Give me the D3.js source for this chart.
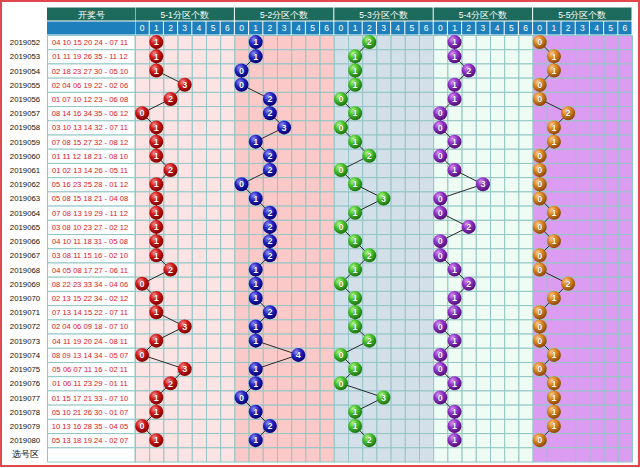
<!DOCTYPE html>
<html>
  <head>
    <meta charset="utf-8">
    <title>大乐透 五分区个数走势</title>
<style>
  body { margin: 0; background-color: #fff; }
  #viz { width: 640px; height: 468px; }
  text { font-family: "Liberation Sans", Arial, sans-serif; }
</style>
  </head>
  <body>
    <div id="viz"></div>

  <script src="https://cdnjs.cloudflare.com/ajax/libs/d3/7.8.5/d3.min.js"></script>
  <script>

    var issues = ["2019052","2019053","2019054","2019055","2019056","2019057","2019058","2019059","2019060","2019061",
                  "2019062","2019063","2019064","2019065","2019066","2019067","2019068","2019069","2019070","2019071",
                  "2019072","2019073","2019074","2019075","2019076","2019077","2019078","2019079","2019080"]

    var draws = ["04 10 15 20 24 - 07 11","01 11 19 26 35 - 11 12","02 18 23 27 30 - 05 10","02 04 06 19 22 - 02 06",
                 "01 07 10 12 23 - 06 08","08 14 16 34 35 - 06 12","03 10 13 14 32 - 07 11","07 08 15 27 32 - 08 12",
                 "01 11 12 18 21 - 08 10","01 02 13 14 26 - 05 11","05 16 23 25 28 - 01 12","05 08 15 18 21 - 04 08",
                 "07 08 13 19 29 - 11 12","03 08 10 23 27 - 02 12","04 10 11 18 31 - 05 08","03 08 11 15 16 - 02 10",
                 "04 05 08 17 27 - 06 11","08 22 23 33 34 - 04 06","02 13 15 22 34 - 02 12","07 13 14 15 22 - 07 11",
                 "02 04 06 09 18 - 07 10","04 11 19 20 24 - 08 11","08 09 13 14 34 - 05 07","05 06 07 11 16 - 02 11",
                 "01 06 11 23 29 - 01 11","01 15 17 21 33 - 07 10","05 10 21 26 30 - 01 07","10 13 16 28 35 - 04 05",
                 "05 13 18 19 24 - 02 07"]

    // counts per zone
    var zone1 = [1,1,1,3,2,0,1,1,1,2,1,1,1,1,1,1,2,0,1,1,3,1,0,3,2,1,1,0,1]
    var zone2 = [1,1,0,0,2,2,3,1,2,2,0,1,2,2,2,2,1,1,1,2,1,1,4,1,1,0,1,2,1]
    var zone3 = [2,1,1,1,0,1,0,1,2,0,1,3,1,0,1,2,1,0,1,1,1,2,0,1,0,3,1,1,2]
    var zone4 = [1,1,2,1,1,0,0,1,0,1,3,0,0,2,0,0,1,2,1,1,0,1,0,0,1,0,1,1,1]
    var zone5 = [0,1,1,0,0,2,1,1,0,0,0,0,1,0,1,0,0,2,1,0,0,0,1,0,1,1,1,1,0]

    var zoneNames = ["5-1分区个数","5-2分区个数","5-3分区个数","5-4分区个数","5-5分区个数"]
    var counts = [0,1,2,3,4,5,6]

    var zoneBg = ["#fde4e4","#fcc9c9","#d3dfe9","#effcf3","#dc9cf2"]
    var ballCol = [["#ff9a9a","#d01818","#7c0000"],
                   ["#9a9aff","#2424c4","#00006e"],
                   ["#c4ff9c","#44c228","#1b6e0e"],
                   ["#e6a0ff","#9032c8","#4e0c72"],
                   ["#ffd69a","#dc8422","#864400"]]
    var zones = [zone1, zone2, zone3, zone4, zone5]

    var svg = d3.select("#viz").append("svg")
        .attr("width", 640)
        .attr("height", 468)

    var defs = svg.append("defs")
    ballCol.forEach(function(c, i) {
      var g = defs.append("radialGradient")
          .attr("id", "ball" + i)
          .attr("cx", "38%").attr("cy", "32%").attr("r", "70%")
      g.append("stop").attr("offset", "0%").attr("stop-color", c[0])
      g.append("stop").attr("offset", "45%").attr("stop-color", c[1])
      g.append("stop").attr("offset", "100%").attr("stop-color", c[2])
    })

    var rows = issues.concat(["选号区"])

    var y = d3.scaleBand()
        .domain(rows)
        .range([35, 461.5])

    var zx = d3.scaleBand()
        .domain(zoneNames)
        .range([135, 632])

    var gridCol = "#93c6c6"

    // header rows
    svg.append("rect")
        .attr("x", 47).attr("y", 7.5).attr("width", 88).attr("height", 13)
        .attr("fill", "#1d6b5c")
    svg.append("rect")
        .attr("x", 47).attr("y", 21.5).attr("width", 88).attr("height", 13)
        .attr("fill", "#1e7fbd")
    svg.append("text")
        .attr("x", 91).attr("y", 17.5)
        .attr("text-anchor", "middle")
        .attr("fill", "#fff")
        .style("font-size", "8.5px")
        .text("开奖号")

    // date + draw columns
    var row = svg.selectAll(".row")
        .data(rows)
      .enter().append("g")
        .attr("class", "row")

    row.append("rect")
        .attr("x", 47.5).attr("y", function(d) { return y(d) + 0.5 })
        .attr("width", 87.5).attr("height", y.bandwidth())
        .attr("fill", "#fff")
        .attr("stroke", gridCol)

    row.append("text")
        .attr("x", 25).attr("y", function(d) { return y(d) + y.bandwidth() / 2 + 3 })
        .attr("text-anchor", "middle")
        .attr("fill", "#111")
        .style("font-size", function(d) { return d == "选号区" ? "9px" : "7.8px" })
        .text(function(d) { return d })

    row.filter(function(d, i) { return i < draws.length })
      .append("text")
        .attr("x", 90).attr("y", function(d) { return y(d) + y.bandwidth() / 2 + 3 })
        .attr("text-anchor", "middle")
        .attr("fill", "#e0141e")
        .style("font-size", "7.6px")
        .text(function(d, i) { return draws[i] })

    // zones
    zoneNames.forEach(function(name, z) {
      var x = d3.scaleBand()
          .domain(counts)
          .range([zx(name), zx(name) + zx.bandwidth()])

      var g = svg.append("g").attr("class", "zone")

      g.append("rect")
          .attr("x", zx(name) + 0.5).attr("y", 7.5)
          .attr("width", zx.bandwidth() - 1).attr("height", 13)
          .attr("fill", "#1d6b5c")
      g.append("text")
          .attr("x", zx(name) + zx.bandwidth() / 2).attr("y", 17.5)
          .attr("text-anchor", "middle")
          .attr("fill", "#fff")
          .style("font-size", "8.5px")
          .text(name)

      g.selectAll(".hd")
          .data(counts)
        .enter().append("rect")
          .attr("x", function(d) { return x(d) + 0.5 }).attr("y", 21.5)
          .attr("width", x.bandwidth() - 1).attr("height", 13)
          .attr("fill", "#1e7fbd")
      g.selectAll(".hdt")
          .data(counts)
        .enter().append("text")
          .attr("x", function(d) { return x(d) + x.bandwidth() / 2 }).attr("y", 31)
          .attr("text-anchor", "middle")
          .attr("fill", "#fff")
          .style("font-size", "8.5px")
          .text(function(d) { return d })

      // cells
      rows.forEach(function(r) {
        g.selectAll(null)
            .data(counts)
          .enter().append("rect")
            .attr("x", function(d) { return x(d) + 0.5 })
            .attr("y", y(r) + 0.5)
            .attr("width", x.bandwidth()).attr("height", y.bandwidth())
            .attr("fill", zoneBg[z])
            .attr("stroke", gridCol)
      })

      var vals = zones[z]
      var line = d3.line()
          .x(function(d) { return x(d) + x.bandwidth() / 2 })
          .y(function(d, i) { return y(issues[i]) + y.bandwidth() / 2 })

      g.append("path")
          .attr("d", line(vals))
          .attr("fill", "none")
          .attr("stroke", "#2a2a2a")
          .attr("stroke-width", 1)

      var ball = g.selectAll(".ball")
          .data(vals)
        .enter().append("g")
          .attr("class", "ball")
          .attr("transform", function(d, i) {
            return "translate(" + (x(d) + x.bandwidth() / 2) + "," + (y(issues[i]) + y.bandwidth() / 2) + ")"
          })

      ball.append("circle")
          .attr("r", 7)
          .attr("fill", "url(#ball" + z + ")")
      ball.append("text")
          .attr("y", 3.2)
          .attr("text-anchor", "middle")
          .attr("fill", "#fff")
          .attr("stroke", ballCol[z][2])
          .attr("stroke-width", 0.6)
          .attr("paint-order", "stroke")
          .style("font-size", "9px")
          .style("font-weight", "bold")
          .text(function(d) { return d })
    })

    // outer frame
    svg.append("rect")
        .attr("x", 1).attr("y", 1)
        .attr("width", 638).attr("height", 465)
        .attr("fill", "none")
        .attr("stroke", "#e0484e")
        .attr("stroke-width", 2)

  </script>
  </body>
</html>
